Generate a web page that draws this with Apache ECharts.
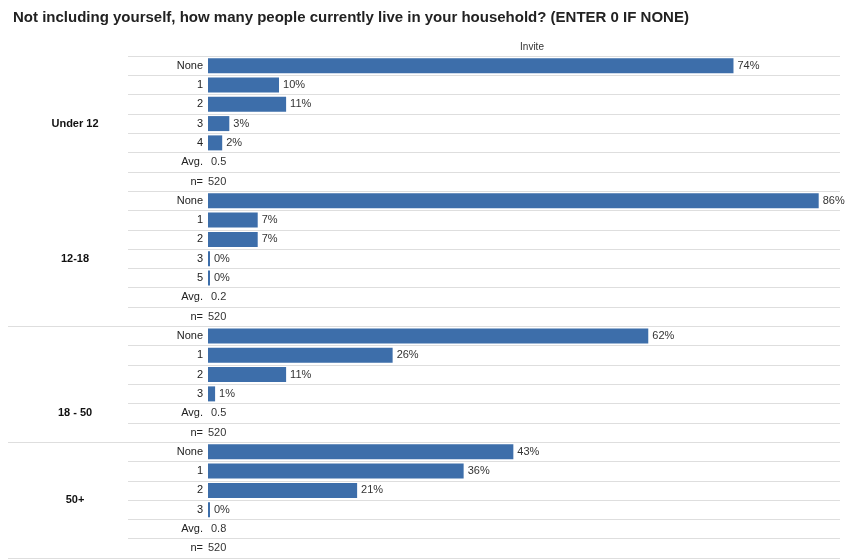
<!DOCTYPE html>
<html>
<head>
<meta charset="utf-8">
<script src="https://cdn.jsdelivr.net/npm/echarts@6/dist/echarts.min.js"></script>
<style>
html,body{margin:0;padding:0;background:#fff;}
#chart{width:845px;height:560px;}
</style>
</head>
<body>
<div id="chart"></div>
<script>
// ---- data ----
var titleText = 'Not including yourself, how many people currently live in your household? (ENTER 0 IF NONE)';
var seriesName = 'Invite';
var groupNames = ['Under 12', '12-18', '18 - 50', '50+'];
var under12Cats = ['None', '1', '2', '3', '4'];
var under12Pct  = [74, 10, 11, 3, 2];
var teenCats    = ['None', '1', '2', '3', '5'];
var teenPct     = [86, 7, 7, 0, 0];
var adultCats   = ['None', '1', '2', '3'];
var adultPct    = [62, 26, 11, 1];
var seniorCats  = ['None', '1', '2', '3'];
var seniorPct   = [43, 36, 21, 0];
var groupAvg    = ['0.5', '0.2', '0.5', '0.8'];
var groupN      = ['520', '520', '520', '520'];

// ---- build rows ----
var groupCats = [under12Cats, teenCats, adultCats, seniorCats];
var groupPct  = [under12Pct, teenPct, adultPct, seniorPct];
var rowLabels = [], pctRow = [], textRow = [], rowKind = [], groupStart = [];
groupCats.forEach(function (cats, g) {
  groupStart.push(rowLabels.length);
  cats.forEach(function (c, i) {
    rowLabels.push(c); pctRow.push(groupPct[g][i]); textRow.push(null); rowKind.push('pct');
  });
  rowLabels.push('Avg.'); pctRow.push(null); textRow.push(groupAvg[g]); rowKind.push('avg');
  rowLabels.push('n='); pctRow.push(null); textRow.push(groupN[g]); rowKind.push('n');
});
var rowIds = rowLabels.map(function (_, i) { return String(i); });

// layout
var TOP = 56, BOTTOM = 2;
var groupLabelRow = [3, 10, 18, 22.5];
var groupLineRows = [groupStart[2], groupStart[3]];
var FONT = '"Liberation Sans", Arial, sans-serif';
var lineColor = '#dedede';

var chart = echarts.init(document.getElementById('chart'), null, {renderer: 'canvas'});

function hiddenX(idx) {
  return {type: 'value', gridIndex: idx, min: 0, max: 89, show: false, splitLine: {show: false}};
}
function catY(idx, extra) {
  var o = {
    type: 'category', gridIndex: idx, inverse: true, data: rowIds,
    axisLine: {show: false}, axisTick: {show: false}, axisLabel: {show: false},
    splitLine: {show: false}
  };
  for (var k in extra) o[k] = extra[k];
  return o;
}

var option = {
  animation: false,
  backgroundColor: '#ffffff',
  title: [
    {text: titleText, left: 8, top: 5,
     textStyle: {fontFamily: FONT, fontSize: 15, fontWeight: 'bold', color: '#222'}},
    {text: seriesName, left: 527, top: 37, textAlign: 'center',
     textStyle: {fontFamily: FONT, fontSize: 10, fontWeight: 'normal', color: '#333'}}
  ],
  grid: [
    {left: 8, right: 5, top: TOP, bottom: BOTTOM},
    {left: 128, right: 5, top: TOP, bottom: BOTTOM},
    {left: 208, right: 5, top: TOP, bottom: BOTTOM}
  ],
  xAxis: [hiddenX(0), hiddenX(1), hiddenX(2)],
  yAxis: [
    catY(0, {splitLine: {show: true, lineStyle: {color: lineColor, width: 1},
      interval: function (index) { return groupLineRows.indexOf(index) >= 0; }}}),
    catY(1, {splitLine: {show: true, interval: 0, lineStyle: {color: lineColor, width: 1}}}),
    catY(2, {axisLabel: {show: true, interval: 0, margin: 5, fontFamily: FONT, fontSize: 11, color: '#222',
      formatter: function (v) { return rowLabels[+v]; }}})
  ],
  series: [
    {
      type: 'bar', name: seriesName, xAxisIndex: 2, yAxisIndex: 2,
      data: pctRow.map(function (v) { return v === null ? '-' : v; }),
      barWidth: 15, barGap: '-100%', barMinHeight: 2,
      itemStyle: {color: '#3d6eaa'},
      label: {show: true, position: 'right', distance: 4, fontFamily: FONT, fontSize: 11, color: '#333',
        formatter: function (p) { return p.value + '%'; }}
    },
    {
      type: 'bar', name: 'text', xAxisIndex: 2, yAxisIndex: 2,
      data: textRow.map(function (t, i) {
        if (t === null) return '-';
        return {value: 0, label: {distance: rowKind[i] === 'n' ? 0 : 3}};
      }),
      barWidth: 15, barGap: '-100%',
      itemStyle: {color: 'rgba(0,0,0,0)'},
      label: {show: true, position: 'right', distance: 3, fontFamily: FONT, fontSize: 11, color: '#333',
        formatter: function (p) { return textRow[p.dataIndex]; }}
    }
  ]
};
chart.setOption(option);

// group labels placed via the axis scale
var graphics = groupNames.map(function (name, g) {
  var r = groupLabelRow[g];
  var lo = Math.floor(r), hi = Math.ceil(r);
  var y0 = chart.convertToPixel({yAxisIndex: 0}, String(lo));
  var y1 = chart.convertToPixel({yAxisIndex: 0}, String(hi));
  var y = y0 + (y1 - y0) * (r - lo);
  return {type: 'text', x: 75, y: y,
    style: {text: name, fontFamily: FONT, fontSize: 11, fontWeight: 'bold', fill: '#111',
      align: 'center', verticalAlign: 'middle'}};
});
chart.setOption({graphic: graphics});
</script>
</body>
</html>
